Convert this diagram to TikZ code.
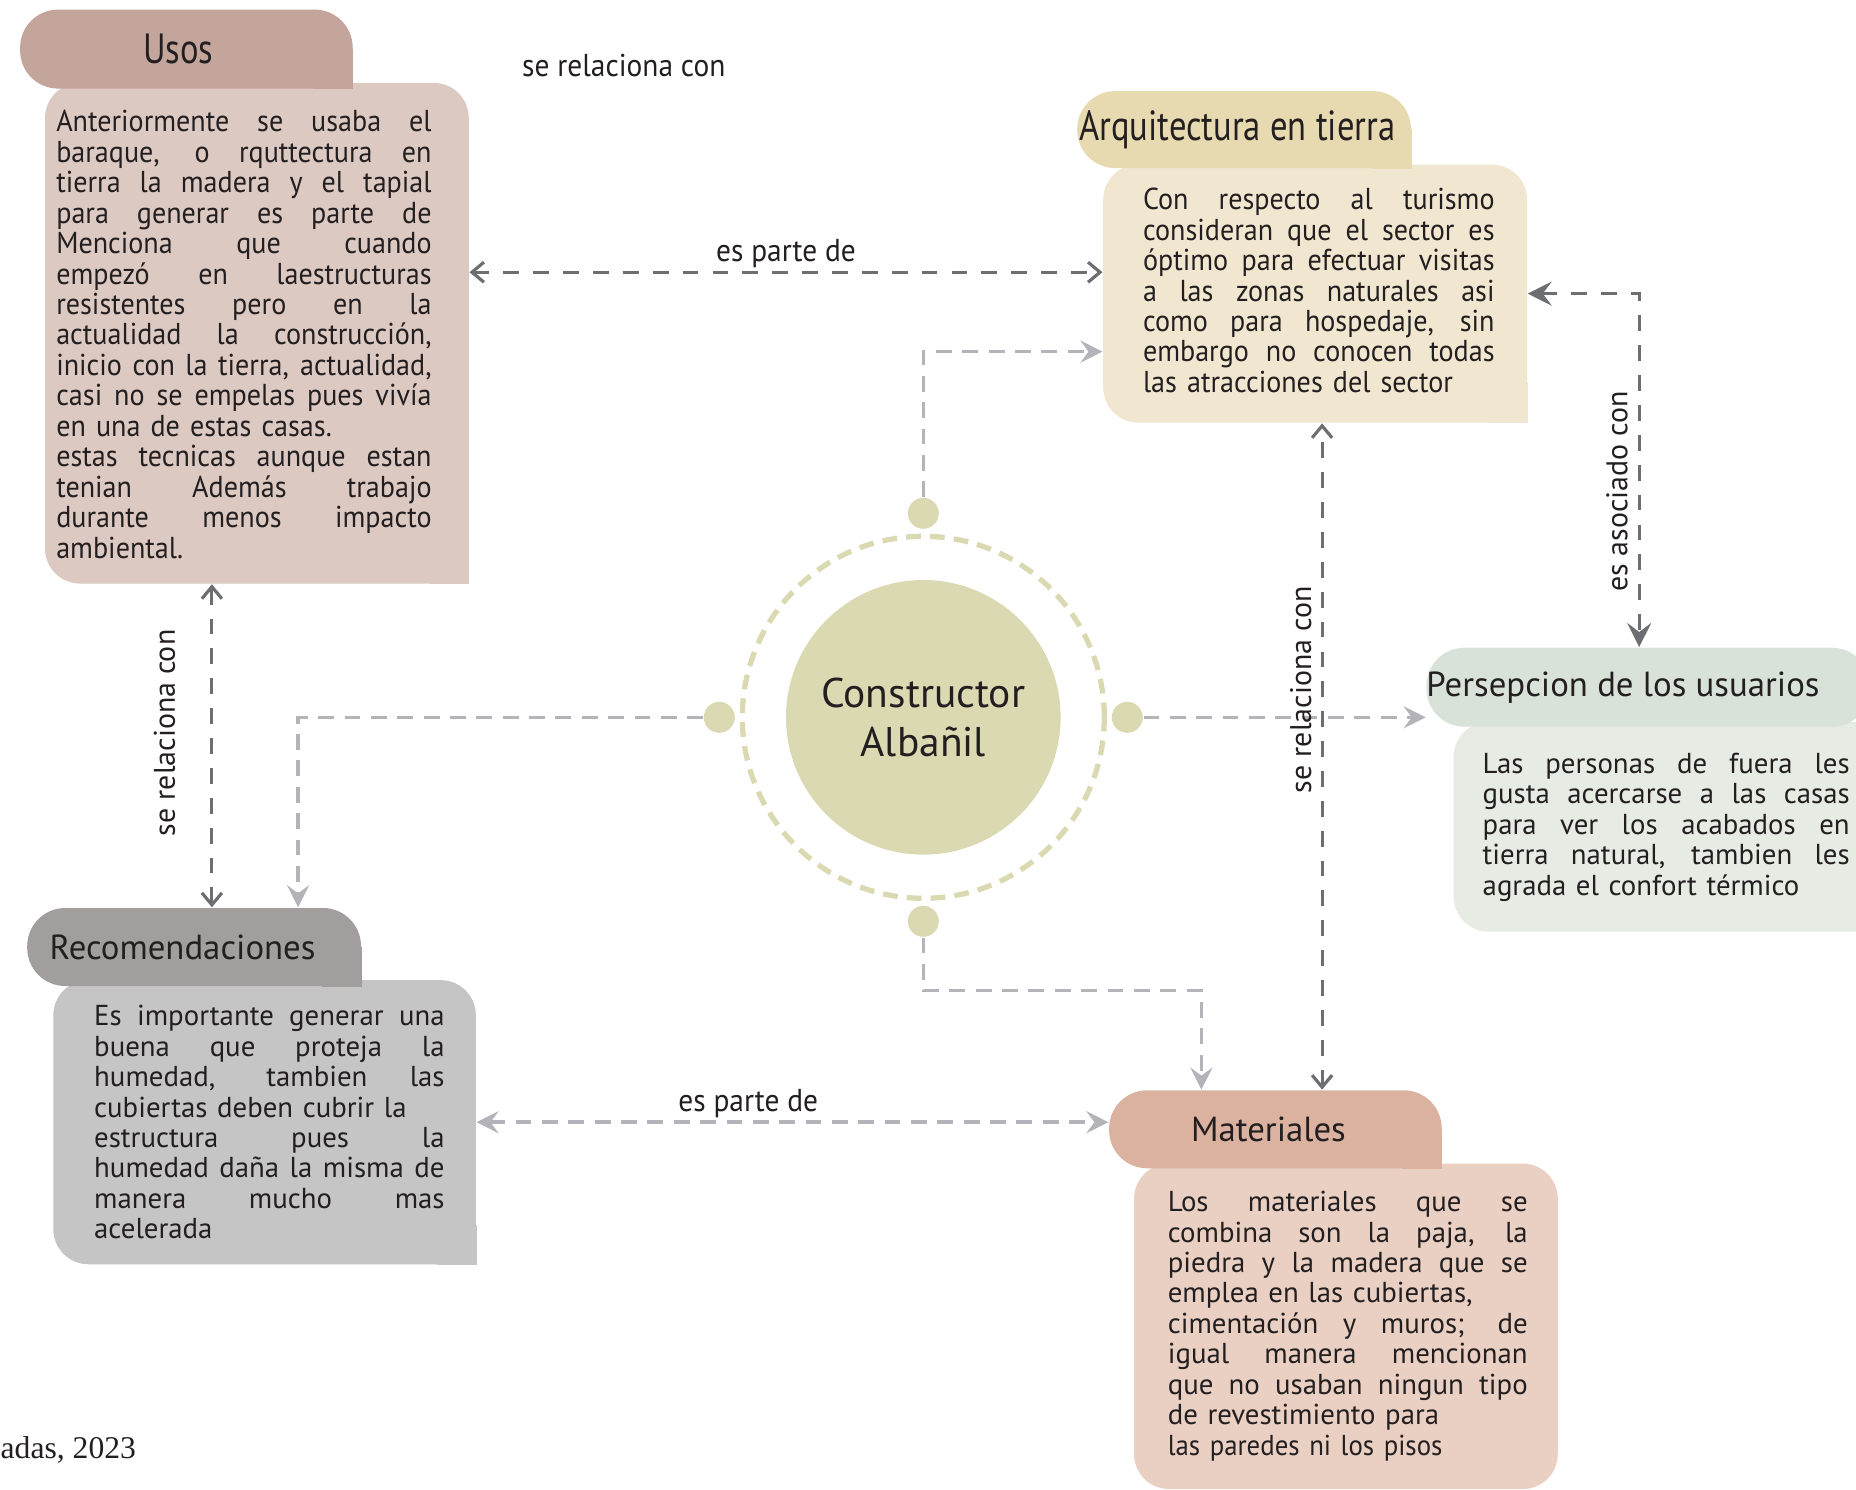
\documentclass[tikz,border=0pt]{standalone}
\usepackage{fontspec}
\setmainfont{PT Sans}
\newfontfamily\condfont[FakeStretch=0.93]{PT Sans}
\newfontfamily\hcondfont[FakeStretch=0.82]{PT Sans}
\newfontfamily\capfont{Liberation Serif}
\usepackage{xcolor}
\usetikzlibrary{positioning,calc,arrows.meta}
\definecolor{ink}{HTML}{231F20}
\definecolor{usosH}{HTML}{C3A59B}
\definecolor{usosB}{HTML}{DCC9C2}
\definecolor{arqH}{HTML}{E8DAB0}
\definecolor{arqB}{HTML}{F1E7D1}
\definecolor{persH}{HTML}{D9E2D8}
\definecolor{persB}{HTML}{E6EBE4}
\definecolor{recH}{HTML}{A29E9E}
\definecolor{recB}{HTML}{C6C5C5}
\definecolor{matH}{HTML}{DAB29F}
\definecolor{matB}{HTML}{E9D0C3}
\definecolor{olive}{HTML}{DBD9B1}
\definecolor{darkln}{HTML}{6D6E71}
\definecolor{lightln}{HTML}{B4B3BA}
\newlength{\jlw}
\newcommand{\jl}[1]{\makebox[\jlw][s]{\spaceskip=0pt\relax\xspaceskip=0pt\relax #1}}

\begin{document}
\begin{tikzpicture}[every node/.style={text=ink},
  txt/.style={anchor=north west, inner sep=0pt, text width=#1, align=left,
              execute at begin node={\setlength{\jlw}{#1}},
              font=\fontsize{8.2}{8.66}\selectfont},
  body/.style={fill=#1, rounded corners=3.5mm, inner sep=0pt},
  hdr/.style={fill=#1, rounded corners=3.8mm, inner sep=0pt, minimum height=7.9mm},
  htxt/.style={inner sep=0pt, font=\fontsize{9.9}{12}\selectfont},
  chtxt/.style={inner sep=0pt, font=\hcondfont\fontsize{12}{12}\selectfont},
  lbl/.style={font=\fontsize{8.5}{10}\selectfont, inner sep=0pt},
  clbl/.style={font=\condfont\fontsize{9}{10}\selectfont, inner sep=0pt},
  dot/.style={circle, fill=olive, minimum size=3.1mm, inner sep=0pt},
  rel/.style={draw=darkln, line width=0.9pt, dash pattern=on 4.5pt off 4pt,
              {Straight Barb[length=1.2mm,width=2mm]}-{Straight Barb[length=1.2mm,width=2mm]}},
  relf/.style={draw=darkln, line width=0.9pt, dash pattern=on 4.5pt off 4pt,
              {Stealth[length=2.4mm,width=2.4mm,inset=0.9mm]}-{Stealth[length=2.4mm,width=2.4mm,inset=0.9mm]}},
  link/.style={draw=lightln, line width=1pt, dash pattern=on 4.5pt off 3pt,
              -{Stealth[length=2.2mm,width=2.2mm,inset=0.8mm]}},
  linkb/.style={link, {Stealth[length=2.2mm,width=2.2mm,inset=0.8mm]}-{Stealth[length=2.2mm,width=2.2mm,inset=0.8mm]}}]
\useasboundingbox (0,0) rectangle (18.56,-14.89);
\clip (0,0) rectangle (18.56,-14.89);

% bodies
\node[body=usosB, minimum width=4.237cm, minimum height=5.007cm] (usosb) at (2.569,-3.332) {};
\fill[usosB] (usosb.south east) rectangle ++(-4mm,4mm);
\node[body=arqB, minimum width=4.238cm, minimum height=2.581cm] (arqb) at (13.151,-2.936) {};
\fill[arqB] (arqb.south east) rectangle ++(-4mm,4mm);
\node[body=persB, minimum width=4.364cm, minimum height=2.096cm] (persb) at (16.718,-8.268) {};
\node[body=recB, minimum width=4.225cm, minimum height=2.841cm] (recb) at (2.646,-11.222) {};
\fill[recB] (recb.south east) rectangle ++(-4mm,4mm);
\node[body=matB, minimum width=4.237cm, minimum height=3.254cm] (matb) at (13.459,-13.263) {};

% headers
\node[hdr=usosH, minimum width=3.326cm] (usosh) at (1.864,-0.491) {};
\fill[usosH] (usosh.south east) rectangle ++(-4mm,4mm);
\node[chtxt] at ([xshift=-0.8mm]usosh.center) {Usos};
\node[hdr=arqH, minimum width=3.338cm, minimum height=7.7mm] (arqh) at (12.441,-1.296) {};
\fill[arqH] (arqh.south east) rectangle ++(-4mm,4mm);
\node[chtxt, anchor=west] at ([xshift=0.2mm]arqh.west) {Arquitectura en tierra};
\node[hdr=persH, minimum width=4.436cm] (persh) at (16.482,-6.872) {};
\node[htxt, anchor=west] at (persh.west) {Persepcion de los usuarios};
\node[hdr=recH, minimum width=3.338cm, minimum height=7.8mm] (rech) at (1.941,-9.47) {};
\fill[recH] (rech.south east) rectangle ++(-4mm,4mm);
\node[htxt, anchor=west] at ([xshift=2.25mm]rech.west) {Recomendaciones};
\node[hdr=matH, minimum width=3.326cm, minimum height=7.8mm] (math) at (12.754,-11.293) {};
\fill[matH] (math.south east) rectangle ++(-4mm,4mm);
\node[htxt] at ([xshift=-0.7mm]math.center) {Materiales};

% texts
\node[txt=3.753cm, font=\condfont\fontsize{8.6}{8.66}\selectfont] (usost) at (0.556,-1.097) {%
\jl{Anteriormente se usaba el}\\ \jl{baraque, o rquttectura en}\\ \jl{tierra la madera y el tapial}\\
\jl{para generar es parte de}\\ \jl{Menciona que cuando}\\ \jl{empezó en laestructuras}\\
\jl{resistentes pero en la}\\ \jl{actualidad la construcción,}\\ \jl{inicio con la tierra, actualidad,}\\
\jl{casi no se empelas pues vivía}\\ en una de estas casas.\\ \jl{estas tecnicas aunque estan}\\
\jl{tenian Además trabajo}\\ \jl{durante menos impacto}\\ ambiental.};
\node[txt=3.516cm, font=\condfont\fontsize{8.6}{8.66}\selectfont] (arqt) at (11.423,-1.875) {%
\jl{Con respecto al turismo}\\ \jl{consideran que el sector es}\\ \jl{óptimo para efectuar visitas}\\
\jl{a las zonas naturales asi}\\ \jl{como para hospedaje, sin}\\ \jl{embargo no conocen todas}\\
las atracciones del sector};
\node[txt=3.67cm] (perst) at (14.82,-7.525) {%
\jl{Las personas de fuera les}\\ \jl{gusta acercarse a las casas}\\ \jl{para ver los acabados en}\\
\jl{tierra natural, tambien les}\\ agrada el confort térmico};
\node[txt=3.504cm] (rect) at (0.935,-10.046) {%
\jl{Es importante generar una}\\ \jl{buena que proteja la}\\ \jl{humedad, tambien las}\\
cubiertas deben cubrir la\\ \jl{estructura pues la}\\ \jl{humedad daña la misma de}\\
\jl{manera mucho mas}\\ acelerada};
\node[txt=3.599cm] (matt) at (11.671,-11.905) {%
\jl{Los materiales que se}\\ \jl{combina son la paja, la}\\ \jl{piedra y la madera que se}\\
emplea en las cubiertas,\\ \jl{cimentación y muros; de}\\ \jl{igual manera mencionan}\\
\jl{que no usaban ningun tipo}\\ de revestimiento para\\ {\condfont las paredes ni los pisos}};

% centre
\node[circle, fill=olive, minimum size=2.746cm, inner sep=0pt, align=center,
      font=\fontsize{11.8}{14.1}\selectfont] (ca) at (9.233,-7.173) {Constructor\\Albañil};
\draw[olive, line width=1.5pt, dash pattern=on 4.2pt off 2.6pt] (ca.center) circle (1.81);
\node[dot] (dtop) at ($(ca.center)+(90:2.04)$) {};
\node[dot] (dleft) at ($(ca.center)+(180:2.04)$) {};
\node[dot] (dright) at ($(ca.center)+(0:2.04)$) {};
\node[dot] (dbot) at ($(ca.center)+(270:2.04)$) {};

% connectors
\draw[link] (dtop.north) |- ([yshift=-5.8mm]arqb.west);
\draw[link] (dleft.west) -| ([xshift=10.4mm]rech.north);
\draw[link] (dright.east) -- (dright.east -| persh.west);
\draw[link] (dbot.south) -- ++(0,-0.53) -| ([xshift=-7.4mm]math.north);
\draw[rel] ([yshift=6.1mm]usosb.east) -- ([yshift=6.1mm]usosb.east -| arqb.west)
  node[midway, above=0.3mm, clbl] {es parte de};
\draw[linkb] (recb.east) -- (recb.east -| math.west)
  node[pos=0.43, above=0.3mm, clbl] {es parte de};
\draw[rel] ([xshift=-4.5mm]usosb.south |- rech.north) -- ([xshift=-4.5mm]usosb.south)
  node[pos=0.54, rotate=90, anchor=south, lbl, inner sep=3.5mm] {se relaciona con};
\draw[rel] ([xshift=0.7mm]arqb.south |- math.north) -- ([xshift=0.7mm]arqb.south)
  node[pos=0.6, rotate=90, anchor=south, lbl, inner sep=0.9mm] {se relaciona con};
\draw[relf] (arqb.east) -| ([xshift=-0.9mm]persh.north)
  node[pos=0.78, rotate=90, anchor=south, lbl, inner sep=1mm] {es asociado con};

% loose texts
\node[clbl] (toplbl) at (6.238,-0.651) {se relaciona con};
\node[font=\capfont\fontsize{9}{10}\selectfont, anchor=west, inner sep=0pt] (fuente) at (0,-14.5) {adas, 2023};
\end{tikzpicture}
\end{document}
